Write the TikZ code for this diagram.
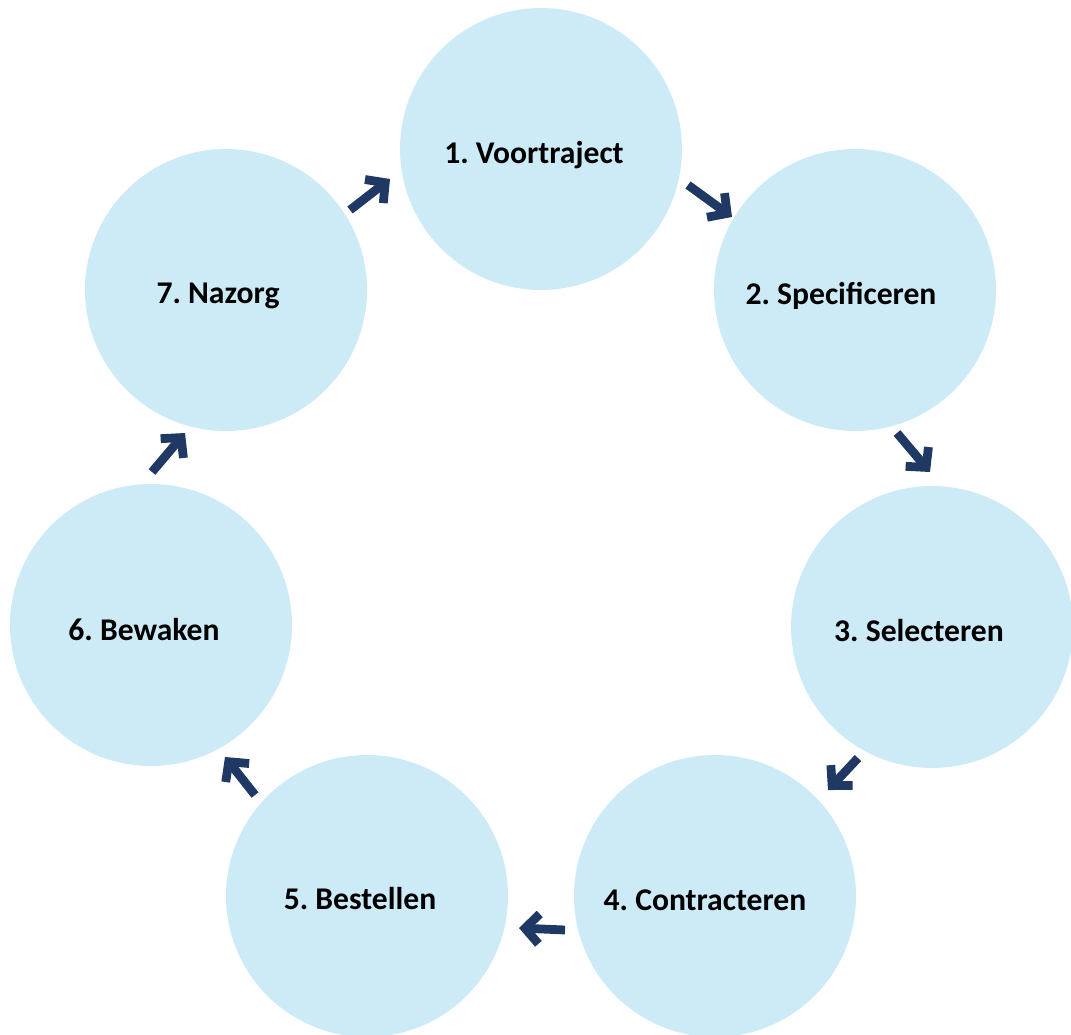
\documentclass[tikz,border=0pt]{standalone}
\usepackage{fontspec}
\setmainfont{Carlito}
\frenchspacing
\usetikzlibrary{arrows.meta}
\definecolor{stapblauw}{RGB}{205,234,247}
\definecolor{pijlblauw}{RGB}{31,56,100}

\begin{document}
\begin{tikzpicture}[x=0.02cm,y=-0.02cm,
    stap/.style={circle, fill=stapblauw, minimum size=5.64cm, inner sep=0pt},
    tekst/.style={font=\bfseries\fontsize{18}{22}\selectfont},
    pijl/.style={pijlblauw, line width=5pt, line cap=butt,
      -{Straight Barb[length=8pt,width=17pt,line width=5pt]}}]
  \useasboundingbox (0,0) rectangle (1071,1034);

  % Stappen in de cirkel
  \node[stap, label={[tekst, shift={(-7,6)}]center:1. Voortraject}] (s1) at (541,149) {};
  \node[stap, label={[tekst, shift={(-14,6)}]center:2. Specificeren}] (s2) at (855,290) {};
  \node[stap, label={[tekst, shift={(-13,4)}]center:3. Selecteren}] (s3) at (932,627) {};
  \node[stap, label={[tekst, shift={(-10,4)}]center:4. Contracteren}] (s4) at (715,896) {};
  \node[stap, label={[tekst, shift={(-7,3)}]center:5. Bestellen}] (s5) at (367,896) {};
  \node[stap, label={[tekst, shift={(-7,5)}]center:6. Bewaken}] (s6) at (151,625) {};
  \node[stap, label={[tekst, shift={(-8,6)}]center:7. Nazorg}] (s7) at (226,290) {};

  % Pijlen tussen de stappen
  \coordinate (p1a) at (688,185); \coordinate (p1b) at (732,217);
  \coordinate (p2a) at (897,433); \coordinate (p2b) at (930,472);
  \coordinate (p3a) at (858,758); \coordinate (p3b) at (828,790);
  \coordinate (p4a) at (565,930); \coordinate (p4b) at (519,928);
  \coordinate (p5a) at (255,795); \coordinate (p5b) at (225,757);
  \coordinate (p6a) at (152,472); \coordinate (p6b) at (185,433);
  \coordinate (p7a) at (350,210); \coordinate (p7b) at (390,179);

  \draw[pijl] (p1a) -- (p1b);
  \draw[pijl] (p2a) -- (p2b);
  \draw[pijl] (p3a) -- (p3b);
  \draw[pijl] (p4a) -- (p4b);
  \draw[pijl] (p5a) -- (p5b);
  \draw[pijl] (p6a) -- (p6b);
  \draw[pijl] (p7a) -- (p7b);
\end{tikzpicture}
\end{document}
